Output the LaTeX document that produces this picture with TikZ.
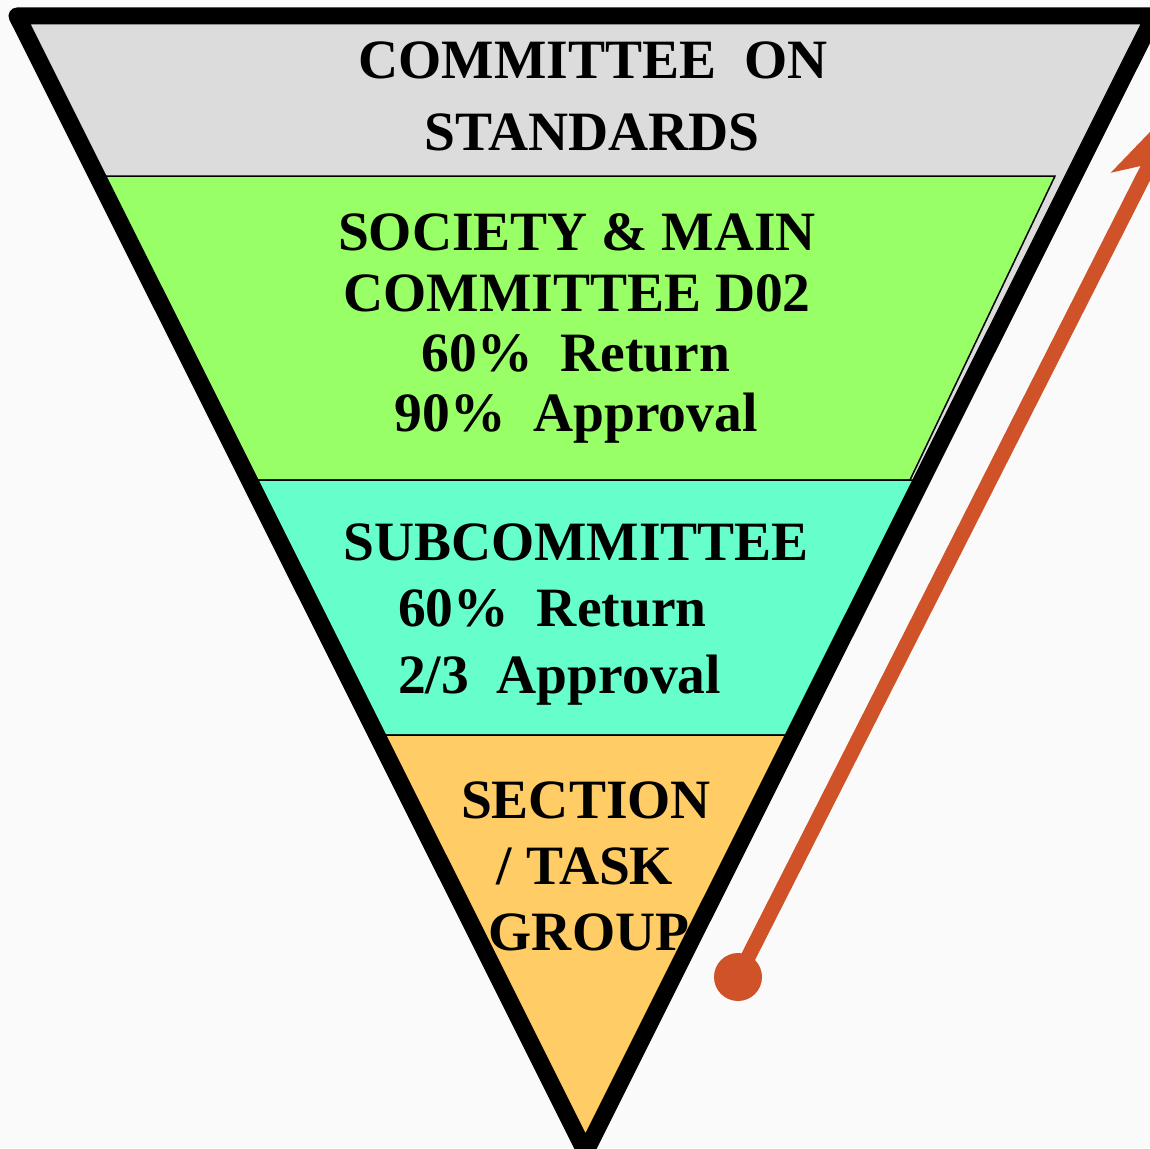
\documentclass[tikz,border=0pt]{standalone}
\usepackage{fontspec}
\setmainfont{Liberation Serif}
\usetikzlibrary{arrows.meta}
\definecolor{bgc}{HTML}{FAFAFA}
\definecolor{grayband}{HTML}{DCDCDC}
\definecolor{greenband}{HTML}{99FF66}
\definecolor{tealband}{HTML}{66FFCC}
\definecolor{orangeband}{HTML}{FFCC66}
\definecolor{arrowred}{HTML}{CF5229}
\tikzset{
  band/.style={draw=black, line width=1.5pt},
  lbl/.style={anchor=base, inner sep=0pt, font=\fontsize{55.5}{66}\selectfont\bfseries},
  lblw/.style={anchor=base west, inner sep=0pt, font=\fontsize{55.5}{66}\selectfont\bfseries},
  outline/.style={draw=black, line width=17pt, line join=round},
  arrowline/.style={draw=arrowred, line width=15pt, -{Stealth[length=100pt, width=60pt, inset=24pt]}},
}
\begin{document}
\begin{tikzpicture}[x=1pt, y=-1pt]
\useasboundingbox (0,0) rectangle (1150,1148);
\clip (0,0) rectangle (1150,1148);
\fill[bgc] (0,0) rectangle (1150,1148);
% coordinates of the funnel
\coordinate (TL) at (17,16);
\coordinate (TR) at (1154,16);
\coordinate (AP) at (585.5,1152);
% gray fill of the whole funnel
\fill[grayband] (TL) -- (TR) -- (AP) -- cycle;
% green band
\draw[band, fill=greenband] (97.5,176) -- (1055,176) -- (910,480) -- (249.5,480) -- cycle;
% teal band
\draw[band, fill=tealband] (249.5,480) -- (921.5,480) -- (794,735) -- (377,735) -- cycle;
% orange band
\draw[band, fill=orangeband] (377,735) -- (794,735) -- (AP) -- cycle;
% outline
\draw[outline] (TL) -- (TR) -- (AP) -- cycle;
% texts
\node[lbl] (t1) at (593,78) {COMMITTEE~~ON};
\node[lbl] (t2) at (592,150) {STANDARDS};
\node[lbl] (g1) at (577,250) {SOCIETY \& MAIN};
\node[lbl] (g2) at (577,311) {COMMITTEE D02};
\node[lbl] (g3) at (576,371) {60\%~~Return};
\node[lbl] (g4) at (576,431) {90\%~~Approval};
\node[lbl] (s1) at (576,560) {SUBCOMMITTEE};
\node[lblw] (s2) at (398,626) {60\%~~Return};
\node[lblw] (s3) at (398,693) {2/3~~Approval};
\node[lbl] (o1) at (586,818) {SECTION};
\node[lbl] (o2) at (585,884) {/ TASK};
\node[lbl] (o3) at (589,950) {GROUP};
% arrow
\node[circle, fill=arrowred, minimum size=48pt, inner sep=0pt] (dot) at (738,977) {};
\coordinate (tip) at (1184.4,96);
\draw[arrowline] (dot.center) -- (tip);
\end{tikzpicture}
\end{document}
